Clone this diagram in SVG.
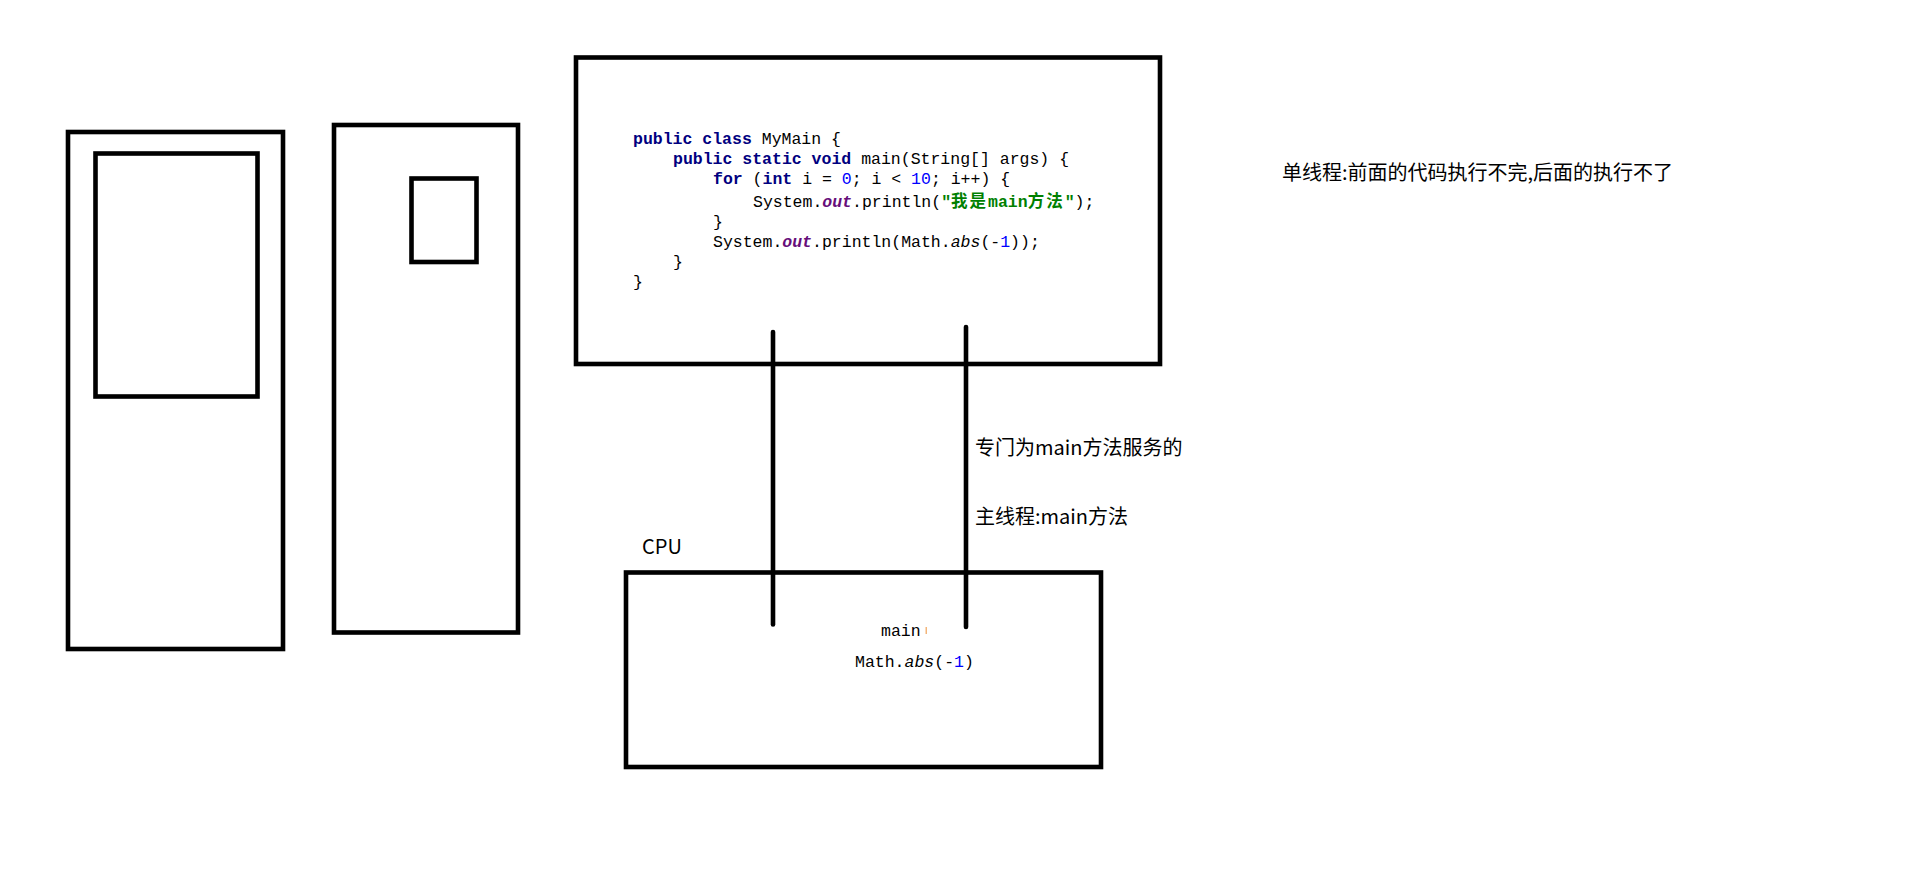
<svg xmlns="http://www.w3.org/2000/svg" width="1909" height="885" viewBox="0 0 1909 885">
<style>
.box{fill:none;stroke:#000;stroke-width:4.6;}
.conn{stroke:#000;stroke-width:4.6;stroke-linecap:round;fill:none;}
.code{font-family:"Liberation Mono","Noto Sans CJK SC",monospace;font-size:16.5px;fill:#000;}
.kw{fill:#000080;font-weight:bold;}
.fld{fill:#660E7A;font-weight:bold;font-style:italic;}
.num{fill:#0000FF;}
.str{fill:#008000;font-weight:bold;}
.cjk{letter-spacing:2px;}
.it{font-style:italic;}
.lbl{font-family:"Noto Sans CJK SC","Liberation Sans",sans-serif;font-size:20px;fill:#000;}
</style>
<rect width="1909" height="885" fill="#fff"/>
<g id="device-left">
<rect class="box" x="68" y="132" width="215" height="517"/>
<rect class="box" x="95.5" y="153.5" width="162" height="243"/>
</g>
<g id="device-right">
<rect class="box" x="334" y="125" width="184" height="507.5"/>
<rect class="box" x="411.5" y="178.5" width="65" height="83.5"/>
</g>
<g id="code-box">
<rect class="box" x="576" y="57.5" width="584" height="306.5"/>
<text class="code" xml:space="preserve" x="633" y="144"><tspan class="kw">public class</tspan> MyMain {</text>
<text class="code" xml:space="preserve" x="673" y="164"><tspan class="kw">public static void</tspan> main(String[] args) {</text>
<text class="code" xml:space="preserve" x="713" y="184"><tspan class="kw">for</tspan> (<tspan class="kw">int</tspan> i = <tspan class="num">0</tspan>; i &lt; <tspan class="num">10</tspan>; i++) {</text>
<text class="code" xml:space="preserve" x="753" y="207">System.<tspan class="fld">out</tspan>.println(<tspan class="str">"<tspan class="cjk">我是</tspan>main<tspan class="cjk">方法</tspan>"</tspan>);</text>
<text class="code" xml:space="preserve" x="713" y="227">}</text>
<text class="code" xml:space="preserve" x="713" y="247">System.<tspan class="fld">out</tspan>.println(Math.<tspan class="it">abs</tspan>(-<tspan class="num">1</tspan>));</text>
<text class="code" xml:space="preserve" x="673" y="267">}</text>
<text class="code" xml:space="preserve" x="633" y="287">}</text>
</g>
<g id="cpu-box">
<rect class="box" x="626" y="572.5" width="475" height="194.5"/>
<text class="lbl" x="642" y="554">CPU</text>
<text class="code" xml:space="preserve" x="881" y="636">main</text>
<rect x="925.5" y="627" width="1.5" height="7" fill="#f3b57a"/>
<text class="code" xml:space="preserve" x="855" y="667">Math.<tspan class="it">abs</tspan>(-<tspan class="num">1</tspan>)</text>
</g>
<g id="connectors">
<line class="conn" x1="773" y1="332" x2="773" y2="624.5"/>
<line class="conn" x1="966" y1="327" x2="966" y2="627"/>
</g>
<g id="labels">
<text class="lbl" x="975" y="454.5">专门为main方法服务的</text>
<text class="lbl" x="975" y="524">主线程:main方法</text>
<text class="lbl" x="1282" y="180">单线程:前面的代码执行不完,后面的执行不了</text>
</g>
</svg>
